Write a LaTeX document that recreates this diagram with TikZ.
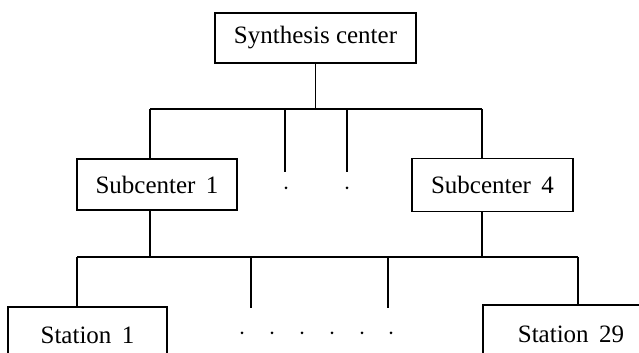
\documentclass[tikz,border=0pt]{standalone}
\usepackage{fontspec}
\setmainfont{Liberation Serif}
\usepackage{tikz}

\begin{document}
\begin{tikzpicture}[x=0.5pt, y=-0.5pt,
        unitbox/.style={draw, line width=0.9pt, inner sep=0pt, font=\fontsize{12.5}{14}\selectfont},
        link/.style={line width=0.75pt},
        gapdot/.style={fill=black}]
            % Frame of the page, 639 x 353 pixels
            \useasboundingbox (0,0) rectangle (639,353);
            \clip (0,0) rectangle (639,353);

            % Boxes
            \node[unitbox, minimum width=100.5pt, minimum height=25pt] (synth) at (315.5,38) {Synthesis\ center};
            \node[unitbox, minimum width=80pt, minimum height=25.5pt] (sub1) at (157,184.5) {Subcenter\ \,1};
            \node[unitbox, minimum width=80.5pt, minimum height=26.5pt] (sub4) at (492.5,185) {Subcenter\ \,4};
            \node[unitbox, minimum width=79.5pt, minimum height=28pt] (st1) at (87.5,335) {Station\ \,1};
            \node[unitbox, minimum width=88pt, minimum height=29pt] (st29) at (571,334) {Station\ \,29};

            % Upper bus
            \coordinate (upL) at (150,109);
            \coordinate (upR) at (482,109);
            \draw[link] (synth.south) -- (synth |- upL);
            \draw[link] (upL) -- (upR);
            \draw[link] (upL) -- (upL |- sub1.north);
            \draw[link] (upR) -- (upR |- sub4.north);

            % Open branches of the upper bus
            \coordinate (upA) at (285,172);
            \coordinate (upB) at (347,172);
            \draw[link] (upA |- upL) -- (upA);
            \draw[link] (upB |- upL) -- (upB);
            \fill[gapdot] (286,188) circle (1.5);
            \fill[gapdot] (347,188) circle (1.5);

            % Lower bus
            \coordinate (lowL) at (77,257);
            \coordinate (lowR) at (578,257);
            \draw[link] (upL |- sub1.south) -- (upL |- lowL);
            \draw[link] (upR |- sub4.south) -- (upR |- lowR);
            \draw[link] (lowL) -- (lowR);
            \draw[link] (lowL) -- (lowL |- st1.north);
            \draw[link] (lowR) -- (lowR |- st29.north);

            % Open branches of the lower bus
            \coordinate (lowA) at (251,308);
            \coordinate (lowB) at (388,308);
            \draw[link] (lowA |- lowL) -- (lowA);
            \draw[link] (lowB |- lowL) -- (lowB);
            \foreach \x in {242,272,302,332,362,391}
                \fill[gapdot] (\x,333) circle (1.5);
        \end{tikzpicture}
\end{document}
